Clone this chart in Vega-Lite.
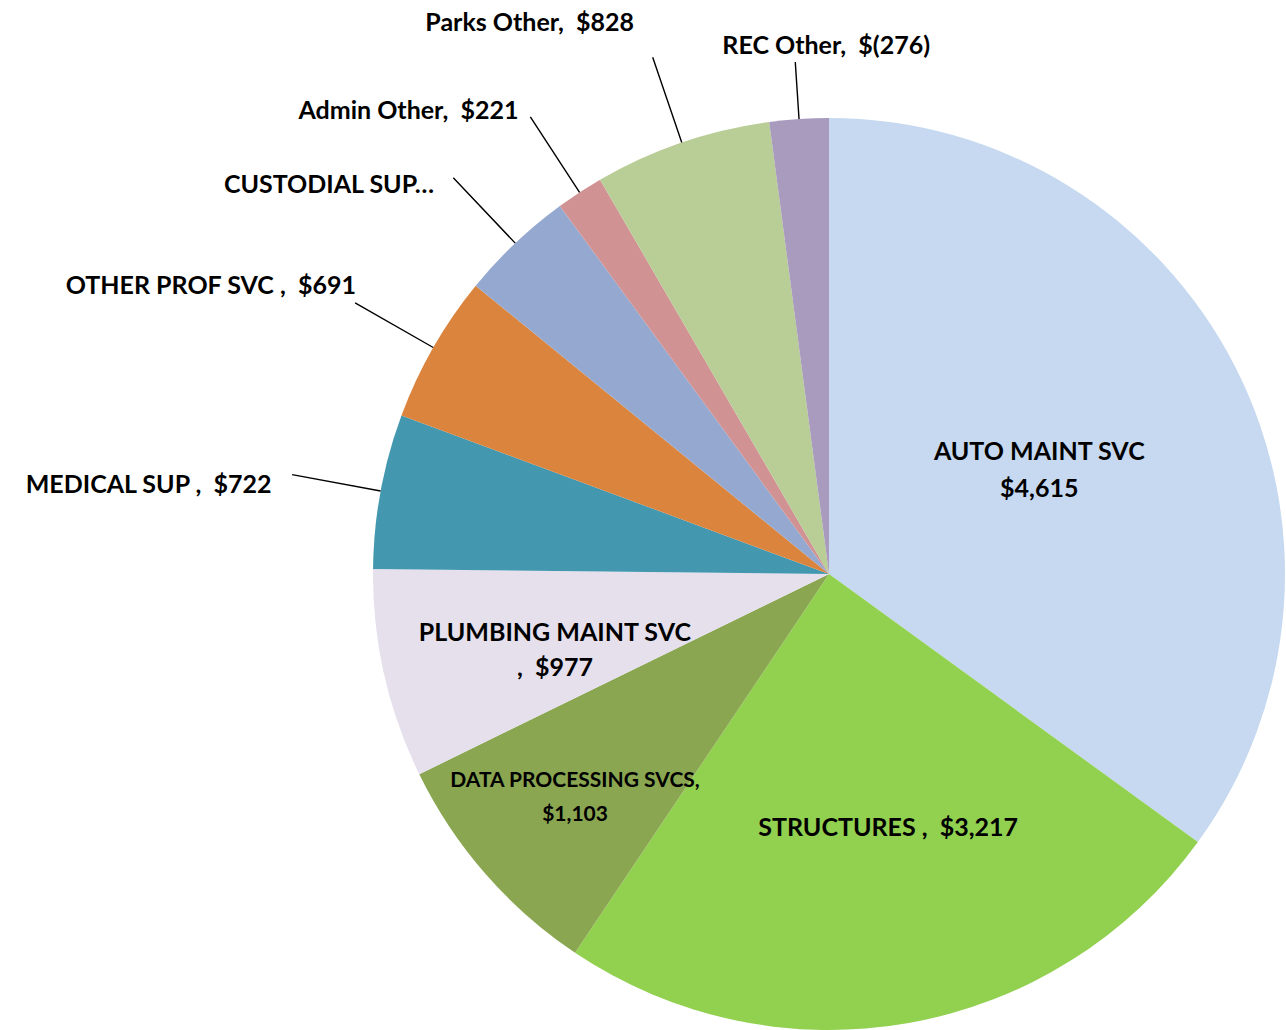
{
  "$schema": "https://vega.github.io/schema/vega-lite/v6.json",
  "autosize": {"type": "none"},
  "padding": {"left": 372, "top": 118, "right": 0, "bottom": 0},
  "width": 914,
  "height": 912,
  "background": "white",
  "config": {"view": {"stroke": null}, "text": {"font": "Lato", "fontWeight": "bold", "fontSize": 25, "fill": "black", "lineBreak": "\n"}},
  "data": {"values": [
    {"i": 1, "name": "AUTO MAINT SVC", "value": 4615, "label": "AUTO MAINT SVC\n$4,615"},
    {"i": 2, "name": "STRUCTURES", "value": 3217, "label": "STRUCTURES ,\u00a0 $3,217"},
    {"i": 3, "name": "DATA PROCESSING SVCS", "value": 1103, "label": "DATA PROCESSING SVCS,\n$1,103"},
    {"i": 4, "name": "PLUMBING MAINT SVC", "value": 977, "label": "PLUMBING MAINT SVC\n,\u00a0 $977"},
    {"i": 5, "name": "MEDICAL SUP", "value": 722, "label": "MEDICAL SUP ,\u00a0 $722"},
    {"i": 6, "name": "OTHER PROF SVC", "value": 691, "label": "OTHER PROF SVC ,\u00a0 $691"},
    {"i": 7, "name": "CUSTODIAL SUP", "value": 535, "label": "CUSTODIAL SUP…"},
    {"i": 8, "name": "Admin Other", "value": 221, "label": "Admin Other,\u00a0 $221"},
    {"i": 9, "name": "Parks Other", "value": 828, "label": "Parks Other,\u00a0 $828"},
    {"i": 10, "name": "REC Other", "value": 276, "label": "REC Other,\u00a0 $(276)"}
  ]},
  "encoding": {
    "theta": {"field": "value", "type": "quantitative", "stack": true},
    "order": {"field": "i", "type": "quantitative"}
  },
  "layer": [
    {
      "mark": {"type": "arc", "outerRadius": 456},
      "encoding": {
        "color": {"field": "name", "type": "nominal", "legend": null,
          "scale": {
            "domain": ["AUTO MAINT SVC", "STRUCTURES", "DATA PROCESSING SVCS", "PLUMBING MAINT SVC", "MEDICAL SUP", "OTHER PROF SVC", "CUSTODIAL SUP", "Admin Other", "Parks Other", "REC Other"],
            "range": ["#C6D9F0", "#92D050", "#8AA650", "#E5E0EC", "#4398B0", "#DB843D", "#95A9D0", "#D09293", "#B9CD96", "#A99BBD"]
          }}
      }
    },
    {
      "mark": {"type": "arc", "innerRadius": 456, "outerRadius": 546, "padAngle": 3.14, "fillOpacity": 0, "stroke": "black", "strokeWidth": 1.4},
      "encoding": {
        "strokeOpacity": {"condition": {"test": "indexof(['MEDICAL SUP','OTHER PROF SVC','CUSTODIAL SUP','Admin Other','Parks Other'], datum.name) >= 0", "value": 1}, "value": 0}
      }
    },
    {
      "mark": {"type": "arc", "innerRadius": 456, "outerRadius": 513, "padAngle": 3.14, "fillOpacity": 0, "stroke": "black", "strokeWidth": 1.4},
      "encoding": {
        "strokeOpacity": {"condition": {"test": "datum.name === 'REC Other'", "value": 1}, "value": 0}
      }
    },
    {
      "mark": {"type": "text", "radius": 236, "dy": -15, "align": "center", "baseline": "middle", "lineHeight": 37},
      "encoding": {"text": {"condition": {"test": "datum.name === 'AUTO MAINT SVC'", "field": "label", "type": "nominal"}, "value": ""}}
    },
    {
      "mark": {"type": "text", "radius": 258, "dx": 14, "align": "center", "baseline": "middle"},
      "encoding": {"text": {"condition": {"test": "datum.name === 'STRUCTURES'", "field": "label", "type": "nominal"}, "value": ""}}
    },
    {
      "mark": {"type": "text", "radius": 337, "dy": -15, "align": "center", "baseline": "middle", "lineHeight": 34, "fontSize": 21},
      "encoding": {"text": {"condition": {"test": "datum.name === 'DATA PROCESSING SVCS'", "field": "label", "type": "nominal"}, "value": ""}}
    },
    {
      "mark": {"type": "text", "radius": 281, "dy": -3, "align": "center", "baseline": "middle", "lineHeight": 35},
      "encoding": {"text": {"condition": {"test": "datum.name === 'PLUMBING MAINT SVC'", "field": "label", "type": "nominal"}, "value": ""}}
    },
    {
      "mark": {"type": "text", "radius": 567, "dy": 14, "align": "right", "baseline": "middle"},
      "encoding": {"text": {"condition": {"test": "datum.name === 'MEDICAL SUP'", "field": "label", "type": "nominal"}, "value": ""}}
    },
    {
      "mark": {"type": "text", "radius": 545, "dy": -17, "align": "right", "baseline": "middle"},
      "encoding": {"text": {"condition": {"test": "datum.name === 'OTHER PROF SVC'", "field": "label", "type": "nominal"}, "value": ""}}
    },
    {
      "mark": {"type": "text", "radius": 555, "dx": -13, "dy": 14, "align": "right", "baseline": "middle"},
      "encoding": {"text": {"condition": {"test": "datum.name === 'CUSTODIAL SUP'", "field": "label", "type": "nominal"}, "value": ""}}
    },
    {
      "mark": {"type": "text", "radius": 555, "dx": -7, "dy": 2, "align": "right", "baseline": "middle"},
      "encoding": {"text": {"condition": {"test": "datum.name === 'Admin Other'", "field": "label", "type": "nominal"}, "value": ""}}
    },
    {
      "mark": {"type": "text", "radius": 585, "dx": -6, "dy": 3, "align": "right", "baseline": "middle"},
      "encoding": {"text": {"condition": {"test": "datum.name === 'Parks Other'", "field": "label", "type": "nominal"}, "value": ""}}
    },
    {
      "mark": {"type": "text", "radius": 530, "dx": 32, "dy": 1, "align": "center", "baseline": "middle"},
      "encoding": {"text": {"condition": {"test": "datum.name === 'REC Other'", "field": "label", "type": "nominal"}, "value": ""}}
    }
  ]
}
